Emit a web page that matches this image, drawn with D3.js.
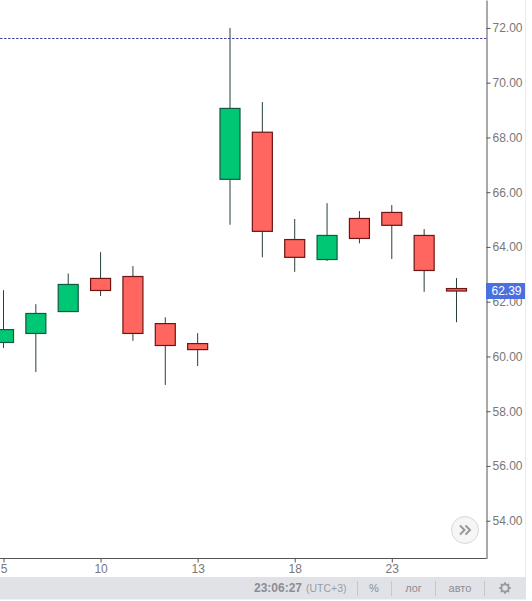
<!DOCTYPE html>
<html>
<head>
<meta charset="utf-8">
<title>candles</title>
<script src="https://cdn.jsdelivr.net/npm/d3@7"></script>
<style>
  * { margin: 0; padding: 0; }
  html, body { background: #fff; overflow: hidden; }
  svg { display: block; font-family: "Liberation Sans", Arial, sans-serif; }
  .axis text { fill: #777; font-size: 12px; }
  .axis line, .axis path { stroke: #555; }
  .bar text { fill: #8c8d92; font-size: 11px; }
</style>
</head>
<body>
<div id="chart"></div>
<script>
// trading days and OHLC
var days   = [5, 8, 9, 10, 11, 12, 13, 16, 17, 18, 19, 20, 23, 24, 25];
var opens  = [60.51, 60.84, 61.64, 62.85, 62.92, 61.20, 60.47, 66.47, 68.19, 64.27, 63.54, 65.04, 65.26, 64.42, 62.48];
var highs  = [62.42, 61.91, 63.03, 63.81, 63.30, 61.43, 60.85, 72.00, 69.29, 65.02, 65.60, 65.31, 65.53, 64.65, 62.86];
var lows   = [60.31, 59.43, 61.64, 62.21, 60.57, 58.96, 59.65, 64.81, 63.62, 63.09, 63.49, 64.13, 63.56, 62.36, 61.25];
var closes = [60.98, 61.57, 62.63, 62.41, 60.84, 60.40, 60.25, 69.06, 64.57, 63.62, 64.42, 64.31, 64.79, 63.14, 62.39];

var dayTicks = [5, 10, 13, 18, 23];
var priceTicks = [54, 56, 58, 60, 62, 64, 66, 68, 70, 72];
var lastPrice = 62.39;
var alertPrice = 71.62;

var width = 532, height = 601;
var plotRight = 486.5, plotBottom = 558.5;
var toolbarTop = 577, toolbarBottom = 599.5, toolbarRight = 525;

var svg = d3.select("#chart").append("svg")
  .attr("width", width)
  .attr("height", height);

var x = d3.scalePoint().domain(days).range([3.5, 456.5]);
var y = d3.scaleLinear().domain([73.02, 52.62]).range([0, plotBottom]);

// dashed level line
svg.append("line")
  .attr("x1", 0)
  .attr("x2", plotRight)
  .attr("y1", Math.round(y(alertPrice)) + 0.5)
  .attr("y2", Math.round(y(alertPrice)) + 0.5)
  .attr("stroke", "#4646a6")
  .attr("stroke-width", 1)
  .attr("stroke-dasharray", "2.5,1.5");

// candles
var candles = svg.append("g").selectAll("g").data(days).enter().append("g");

candles.append("line")
  .attr("x1", function(d) { return x(d); })
  .attr("x2", function(d) { return x(d); })
  .attr("y1", function(d, i) { return y(highs[i]); })
  .attr("y2", function(d, i) { return y(lows[i]); })
  .attr("stroke", "#24423d")
  .attr("stroke-width", 1);

candles.append("rect")
  .attr("x", function(d) { return x(d) - 10; })
  .attr("width", 20)
  .attr("y", function(d, i) { return y(Math.max(opens[i], closes[i])); })
  .attr("height", function(d, i) { return Math.abs(y(opens[i]) - y(closes[i])); })
  .attr("fill", function(d, i) { return closes[i] > opens[i] ? "#00c773" : "#ff665f"; })
  .attr("stroke", function(d, i) { return closes[i] > opens[i] ? "#12593f" : "#6e1414"; })
  .attr("stroke-width", 1.2);

// axes
var yAxis = d3.axisRight(y)
  .tickValues(priceTicks)
  .tickSize(4)
  .tickSizeOuter(0)
  .tickPadding(2)
  .tickFormat(function(d) { return d.toFixed(2); });

svg.append("g").attr("class", "axis")
  .attr("transform", "translate(" + plotRight + ",0)")
  .call(yAxis);

var xAxis = d3.axisBottom(x)
  .tickValues(dayTicks)
  .tickSize(4)
  .tickSizeOuter(0)
  .tickPadding(2);

var xg = svg.append("g").attr("class", "axis")
  .attr("transform", "translate(0," + plotBottom + ")")
  .call(xAxis);
xg.select(".domain").remove();
xg.append("line").attr("x1", 0).attr("x2", plotRight);

// last price label
var lastY = y(lastPrice);
svg.append("rect")
  .attr("x", 486).attr("y", lastY - 8)
  .attr("width", 39).attr("height", 16)
  .attr("fill", "#4a6fe0");
svg.append("text")
  .attr("x", 506.5).attr("y", lastY + 4)
  .attr("text-anchor", "middle")
  .attr("fill", "#fff")
  .style("font-size", "12px")
  .text(lastPrice.toFixed(2));

// scroll-to-end button
var btn = svg.append("g").attr("transform", "translate(465,530)");
btn.append("circle").attr("r", 13.5).attr("fill", "#f6f6f6").attr("stroke", "#d8d8d8");
btn.append("path")
  .attr("d", "M-5,-4.5L-0.5,0L-5,4.5M0.5,-4.5L5,0L0.5,4.5")
  .attr("fill", "none")
  .attr("stroke", "#999")
  .attr("stroke-width", 2);

// right edge and bottom toolbar
svg.append("line")
  .attr("x1", toolbarRight + 0.5).attr("x2", toolbarRight + 0.5)
  .attr("y1", 0).attr("y2", toolbarTop)
  .attr("stroke", "#ececec").attr("stroke-width", 1);

var bar = svg.append("g").attr("class", "bar");
bar.append("rect")
  .attr("x", 0).attr("y", toolbarTop)
  .attr("width", toolbarRight + 1).attr("height", toolbarBottom - toolbarTop)
  .attr("fill", "#e1e2e7");

bar.append("text").attr("x", 254).attr("y", 592).style("font-size", "12px").style("font-weight", "bold").text("23:06:27");
bar.append("text").attr("x", 306).attr("y", 592).style("font-size", "10.5px").attr("fill-opacity", 0.85).text("(UTC+3)");
bar.append("text").attr("x", 374).attr("y", 592).attr("text-anchor", "middle").text("%");
bar.append("text").attr("x", 413.5).attr("y", 592).attr("text-anchor", "middle").text("лог");
bar.append("text").attr("x", 460).attr("y", 592).attr("text-anchor", "middle").text("авто");

bar.selectAll("line.sep").data([357.5, 391.5, 435.5, 484.5]).enter().append("line")
  .attr("class", "sep")
  .attr("x1", function(d) { return d; })
  .attr("x2", function(d) { return d; })
  .attr("y1", 581).attr("y2", 596)
  .attr("stroke", "#c6c7cc");

// gear
var gear = bar.append("g").attr("transform", "translate(505,588)");
gear.append("circle").attr("r", 3.6).attr("fill", "none").attr("stroke", "#999").attr("stroke-width", 1.8);
gear.selectAll("rect").data(d3.range(8)).enter().append("rect")
  .attr("x", -1).attr("y", -5.7).attr("width", 2).attr("height", 2.2)
  .attr("fill", "#999")
  .attr("transform", function(d) { return "rotate(" + d * 45 + ")"; });
</script>
</body>
</html>
